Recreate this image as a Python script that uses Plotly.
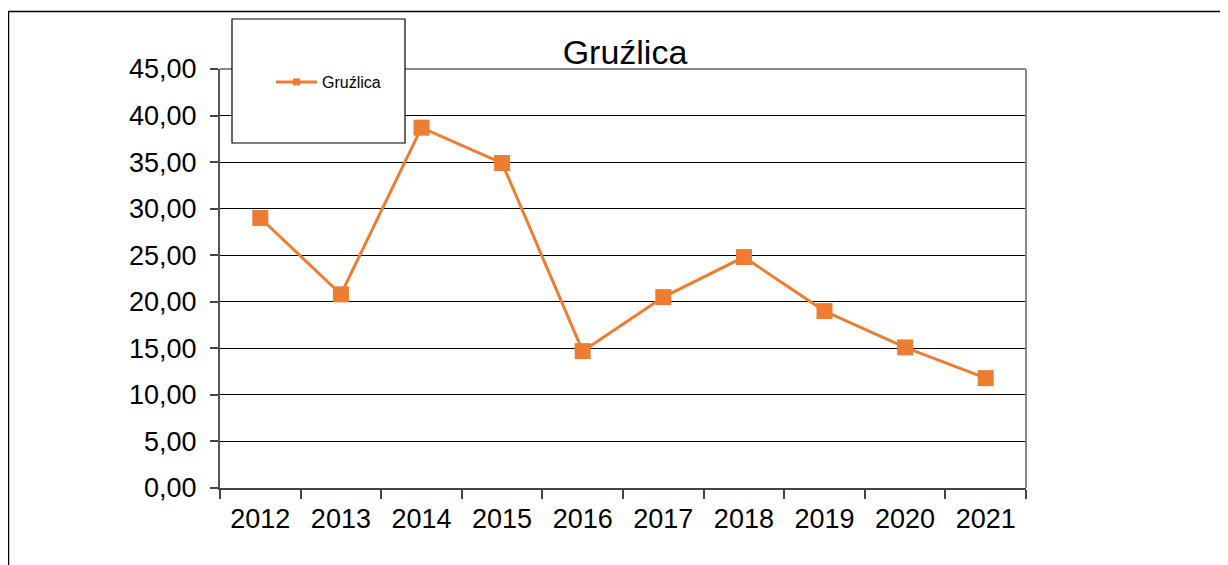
import plotly.graph_objects as go

years = ["2012", "2013", "2014", "2015", "2016", "2017", "2018", "2019", "2020", "2021"]
values = [29.0, 20.8, 38.7, 34.9, 14.7, 20.5, 24.8, 19.0, 15.1, 11.8]
series_name = "Gruźlica"
y_ticks = [0, 5, 10, 15, 20, 25, 30, 35, 40, 45]
y_tick_labels = ["0,00", "5,00", "10,00", "15,00", "20,00", "25,00", "30,00", "35,00", "40,00", "45,00"]

ORANGE = "#ED7D31"
FONT = "Liberation Sans, Arial, sans-serif"

# page offset of the figure inside the browser (body margin)
OFF = 8
FW, FH = 1228, 565
# desired plot area in screen pixels
SX0, SX1, SY0, SY1 = 220, 1026, 69, 488
L = SX0 - OFF
R = FW + OFF - SX1
T = SY0 - OFF
B = FH + OFF - SY1
W, H = SX1 - SX0, SY1 - SY0

def px(x):
    return (x - SX0) / W

def py(y):
    return (SY1 - y) / H

fig = go.Figure()
fig.add_trace(go.Scatter(
    x=years, y=values, mode="lines+markers", name=series_name,
    line=dict(color=ORANGE, width=3),
    marker=dict(symbol="square", size=16, color=ORANGE),
    showlegend=False,
))
fig.add_trace(go.Scatter(
    x=[None], y=[None], mode="lines+markers", name=series_name,
    line=dict(color=ORANGE, width=3),
    marker=dict(symbol="square", size=7, color=ORANGE),
    showlegend=True,
))

shapes = [
    dict(type="line", xref="paper", yref="paper", x0=px(8.5), x1=px(8.5), y0=py(11), y1=py(700),
         line=dict(color="black", width=1.5)),
    dict(type="line", xref="paper", yref="paper", x0=px(8), x1=px(1400), y0=py(11.5), y1=py(11.5),
         line=dict(color="black", width=1.5)),
    dict(type="line", xref="paper", yref="paper", x0=0, x1=1, y0=1, y1=1,
         line=dict(color="#888888", width=2)),
    dict(type="line", xref="paper", yref="paper", x0=1, x1=1, y0=0, y1=1,
         line=dict(color="#888888", width=2)),
    dict(type="rect", xref="paper", yref="paper", x0=px(232), x1=px(405), y0=py(143), y1=py(19),
         line=dict(color="black", width=1.2), fillcolor="white", layer="above"),
]

fig.update_layout(
    width=FW, height=FH,
    margin=dict(l=L, r=R, t=T, b=B),
    paper_bgcolor="white", plot_bgcolor="white",
    font=dict(family=FONT, color="black"),
    title=dict(text="Gruźlica", x=px(625), xref="paper", xanchor="center",
               y=1 - (52 - OFF) / FH, yanchor="middle",
               font=dict(size=34, family=FONT, color="black")),
    shapes=shapes,
    legend=dict(x=px(271), y=py(82), xanchor="left", yanchor="middle",
                bgcolor="rgba(0,0,0,0)", borderwidth=0,
                font=dict(size=16, family=FONT, color="black"),
                itemwidth=41),
    xaxis=dict(type="category", range=[-0.5, 9.5], tickson="boundaries",
               ticks="outside", ticklen=9, tickcolor="#444444", tickwidth=1.5,
               showline=True, linecolor="#444444", linewidth=2,
               ticklabelstandoff=6,
               showgrid=False, tickfont=dict(size=27, family=FONT, color="black")),
    yaxis=dict(range=[0, 45], tickvals=y_ticks, ticktext=y_tick_labels,
               ticks="outside", ticklen=8, tickcolor="#444444", tickwidth=1.5,
               showline=True, linecolor="#555555", linewidth=2,
               ticklabelstandoff=8,
               showgrid=True, gridcolor="black", gridwidth=1.2,
               zeroline=False, tickfont=dict(size=27, family=FONT, color="black")),
)

fig.write_html("out.html")
